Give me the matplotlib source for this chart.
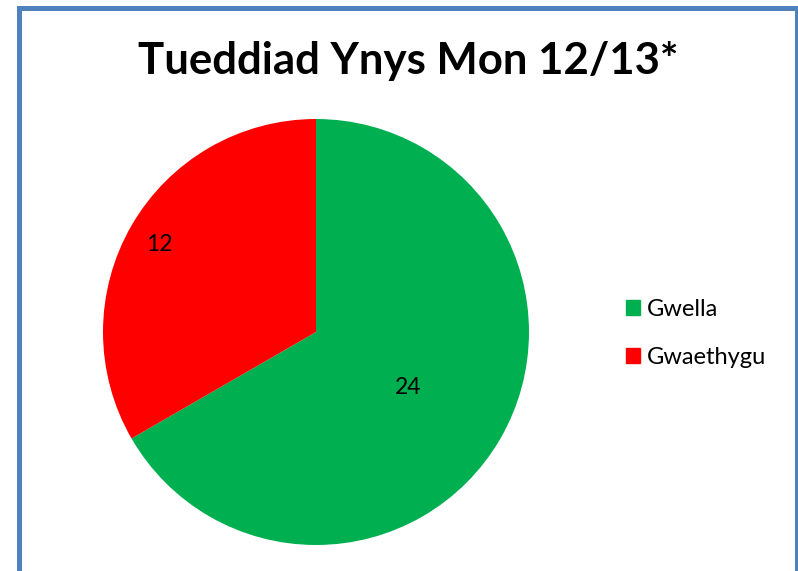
import matplotlib
matplotlib.use("Agg")
import matplotlib.pyplot as plt
import numpy as np
from matplotlib.patches import Rectangle

categories = ["Gwella", "Gwaethygu"]
values = [24, 12]
colors = ["#00B050", "#FF0000"]
title = "Tueddiad Ynys Mon 12/13*"

FONT = "Lato"

W, H = 798, 571
fig = plt.figure(figsize=(W / 100, H / 100), dpi=100)

# Outer chart border (open at the bottom edge)
border = fig.add_axes([0, 0, 1, 1])
border.set_xlim(0, W)
border.set_ylim(H, 0)
border.axis("off")
bc = "#4F81BD"
border.add_patch(Rectangle((17, 6), 5, H, color=bc, lw=0))
border.add_patch(Rectangle((17, 6), W, 4.5, color=bc, lw=0))
border.add_patch(Rectangle((794.5, 6), 4, H, color=bc, lw=0))

# Pie area
cx, cy, r = 316, 332, 213
ax = fig.add_axes([(cx - r) / W, (H - cy - r) / H, 2 * r / W, 2 * r / H])
wedges, _ = ax.pie(values, colors=colors, startangle=90, counterclock=False,
                   radius=1, wedgeprops=dict(linewidth=0))
ax.set_xlim(-1, 1)
ax.set_ylim(-1, 1)
ax.set_aspect("equal")
ax.axis("off")

# Value labels placed along each wedge's bisector
label_dist = [0.5, 0.85]
for w, v, d in zip(wedges, values, label_dist):
    ang = np.deg2rad((w.theta1 + w.theta2) / 2)
    ax.text(d * np.cos(ang), d * np.sin(ang) - 0.012, str(v), ha="center", va="center",
            fontsize=16.5, family=FONT, color="black")

fig.text(408 / W, 1 - 61 / H, title, ha="center", va="center",
         fontsize=31.5, fontweight="bold", family=FONT)

handles = [Rectangle((0, 0), 1, 1, color=c) for c in colors]
fig.legend(handles, categories, loc="center left",
           bbox_to_anchor=(626 / W, 1 - 333.5 / H), frameon=False,
           prop=dict(family=FONT, size=17), handlelength=0.6, handleheight=0.6,
           handletextpad=0.3, labelspacing=1.12, borderpad=0, borderaxespad=0)

fig.savefig("out.png", dpi=100, facecolor="white")
